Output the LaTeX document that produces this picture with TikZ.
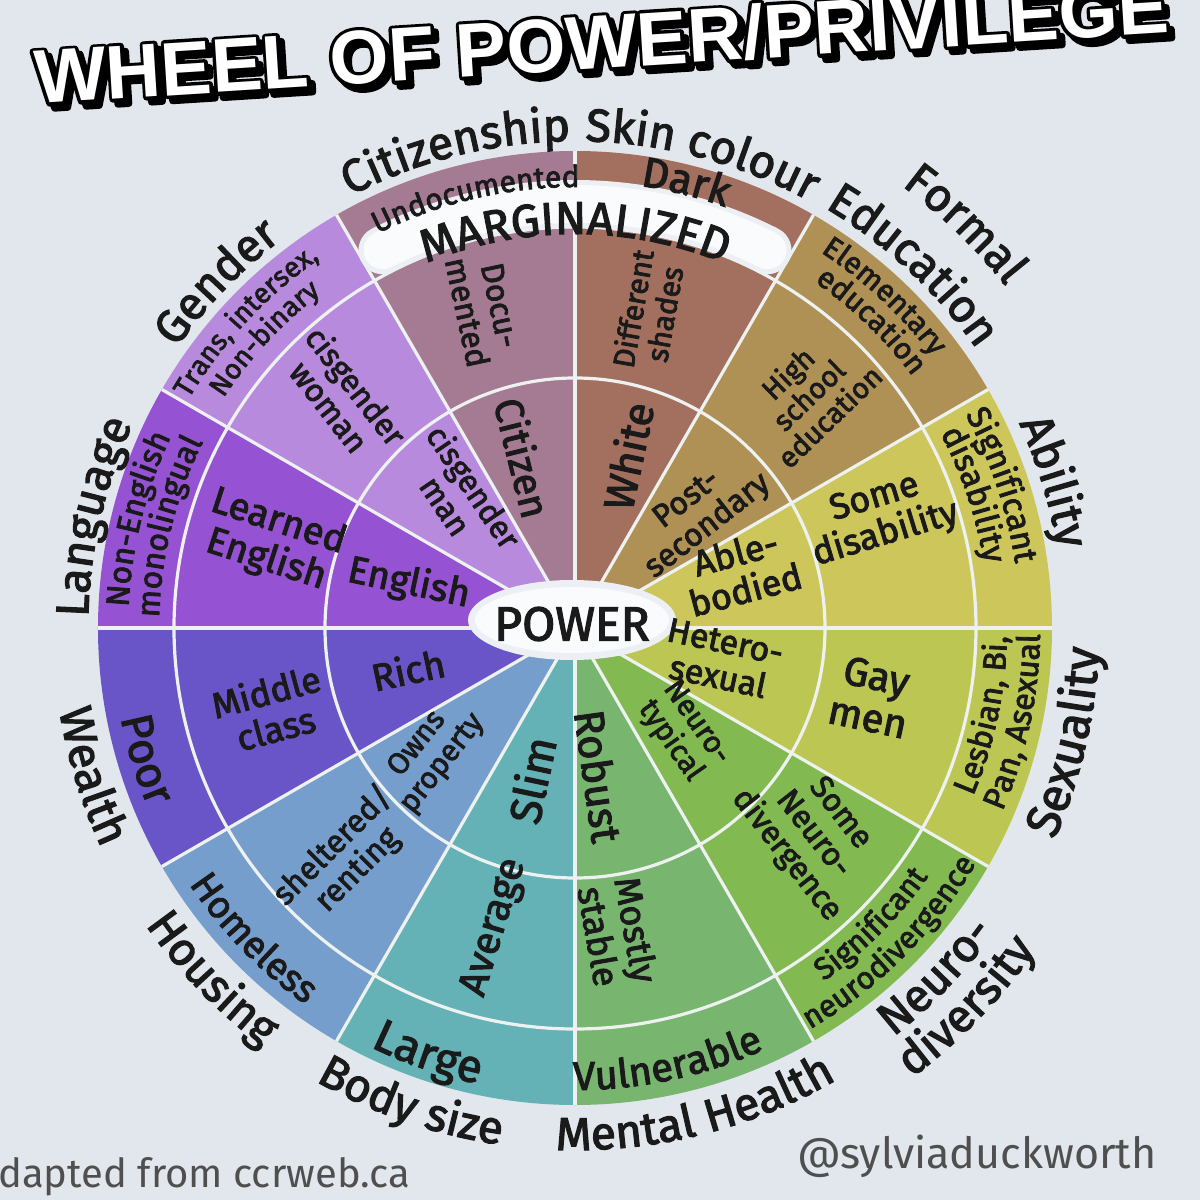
\documentclass[tikz,border=0pt]{standalone}
\usepackage{fontspec}
\setmainfont{Fira Sans}[FakeBold=2.5]
\newfontfamily\titlefont{Liberation Sans}
\newfontfamily\creditfont{Fira Sans}
\usetikzlibrary{decorations.text}
\definecolor{bg}{HTML}{E1E7EC}
\definecolor{ink}{HTML}{1A1A1A}
\definecolor{grayink}{HTML}{4F4F4F}
\definecolor{sepc}{HTML}{EDF1F0}
\definecolor{cit}{HTML}{A57B93}
\definecolor{skin}{HTML}{A3705F}
\definecolor{edu}{HTML}{AF9155}
\definecolor{abil}{HTML}{CDC75B}
\definecolor{sexc}{HTML}{BCC652}
\definecolor{neuro}{HTML}{82B950}
\definecolor{mental}{HTML}{78B670}
\definecolor{body}{HTML}{64B2B6}
\definecolor{house}{HTML}{769ECD}
\definecolor{wealth}{HTML}{6955C8}
\definecolor{lang}{HTML}{9552D2}
\definecolor{gend}{HTML}{B78ADE}
\newcommand\fs[1]{\fontsize{#1}{#1}\selectfont}
\newcommand\cwtext[4]{\path[decorate,decoration={text along path,text={|\fs{#1}\color{ink}|#4},text align=center}] ({#2+50}:#3) arc[start angle={#2+50},end angle={#2-50},radius=#3];}
\newcommand\ccwtext[4]{\path[decorate,decoration={text along path,text={|\fs{#1}\color{ink}|#4},text align=center}] ({#2-50}:#3) arc[start angle={#2-50},end angle={#2+50},radius=#3];}
\newcommand\strokeon[1]{\special{pdf:literal direct 2 Tr #1 w 1 j}}
\newcommand\strokeoff{\special{pdf:literal direct 0 Tr 1 w}}
\begin{document}
\begin{tikzpicture}[x=1pt,y=1pt,
  sep/.style={draw=sepc,line width=3.2},
  lab/.style={align=center,inner sep=0,text=ink},
  f29/.style={font=\fontsize{29}{30}\selectfont},
  f30/.style={font=\fontsize{30}{32}\selectfont},
  f32/.style={font=\fontsize{32}{34}\selectfont},
  f34/.style={font=\fontsize{34}{36}\selectfont},
  f36/.style={font=\fontsize{36}{38}\selectfont},
  f38/.style={font=\fontsize{38}{40}\selectfont},
  f40/.style={font=\fontsize{40}{42}\selectfont},
  f42/.style={font=\fontsize{42}{44}\selectfont},
  f44/.style={font=\fontsize{44}{46}\selectfont},
  ttl/.style={rotate=3.6,anchor=base west,inner sep=0,font=\titlefont\bfseries\fontsize{76}{76}\selectfont}]
\useasboundingbox (-575,-572) rectangle (625,628);
\fill[bg] (-575,-572) rectangle (625,628);
% title: shadow, outline, white face
\node[ttl,text=black] (titleshadow) at (-534,519) {\strokeon{7}WHEEL OF POWER/PRIVILEGE\strokeoff};
\node[ttl,text=black] (titleline) at (-539,524) {\strokeon{7}WHEEL OF POWER/PRIVILEGE\strokeoff};
\node[ttl,text=white] (title) at (-539,524) {WHEEL OF POWER/PRIVILEGE};
% wheel sectors
\foreach \a/\c in {90/skin,60/edu,30/abil,0/sexc,-30/neuro,-60/mental,-90/body,-120/house,-150/wealth,180/lang,150/gend,120/cit}
  \fill[\c] (0,0) -- (\a:477) arc[start angle=\a,end angle=\a-30,radius=477] -- cycle;
\draw[sep] (0,0) circle[radius=401];
\draw[sep] (0,0) circle[radius=250];
\foreach \a in {0,30,...,330}
  \draw[sep] (0,0) -- (\a:477);
% marginalized band
\draw[white!35!bg,line width=48,line cap=round] (117:424) arc[start angle=117,end angle=63,radius=424];
\draw[white!85!bg,line width=38,line cap=round] (117:424) arc[start angle=117,end angle=63,radius=424];
\cwtext{46}{90}{394}{MARGINALIZED}
% power blob
\fill[white!35!bg] (-3,8) ellipse[x radius=104,y radius=40];
\fill[white!85!bg] (-3,8) ellipse[x radius=97,y radius=33];
\node[lab,font=\fontsize{48}{48}\selectfont] (power) at (-3,4) {POWER};
% Citizenship
\cwtext{30}{103}{441}{Undocumented}
\node[lab,f32,rotate=-78] (docu) at (106:332) {Docu-\\mented};
\node[lab,f40,rotate=-76] (citizen) at (107:178) {Citizen};
% Skin colour
\cwtext{42}{76}{447}{Dark}
\node[lab,f30,rotate=80] (diff) at (77:325) {Different\\shades};
\node[lab,f42,rotate=78] (white) at (73:180) {White};
% Formal education
\cwtext{30}{47}{449}{Elementary}
\cwtext{30}{46}{421}{education}
\node[lab,f29,rotate=44] (high) at (45:330) {High\\school\\education};
\node[lab,f32,rotate=38] (post) at (43:168) {Post-\\secondary};
% Ability
\cwtext{33}{18.5}{445}{Significant}
\cwtext{33}{18.5}{414}{disability}
\node[lab,f36,rotate=17] (somedis) at (20:325) {Some\\disability};
\node[lab,f36,rotate=15] (able) at (19:175) {Able-\\bodied};
% Sexuality
\ccwtext{32}{-12}{432}{Lesbian, Bi,}
\ccwtext{32}{-12}{465}{Pan, Asexual}
\node[lab,f40,rotate=-12] (gay) at (-13:305) {Gay\\men};
\node[lab,f34,rotate=-12] (hetero) at (-12:150) {Hetero-\\sexual};
% Neurodiversity
\ccwtext{31}{-45}{432}{Significant}
\ccwtext{31}{-45}{465}{neurodivergence}
\node[lab,f32,rotate=-52] (someneuro) at (-41:315) {Some\\Neuro-\\divergence};
\node[lab,f30,rotate=-55] (typical) at (-44:150) {Neuro-\\typical};
% Mental health
\ccwtext{40}{-78}{462}{Vulnerable}
\node[lab,f36,rotate=-80] (mostly) at (-82:308) {Mostly\\stable};
\node[lab,f42,rotate=-82] (robust) at (-81:150) {Robust};
% Body size
\ccwtext{46}{-109}{466}{Large}
\node[lab,f40,rotate=73] (average) at (-105:310) {Average};
\node[lab,f44,rotate=78] (slim) at (-106:158) {Slim};
% Housing
\ccwtext{38}{-136}{463}{Homeless}
\node[lab,f32,rotate=45] (shelter) at (-135:325) {sheltered/\\renting};
\node[lab,f30,rotate=52] (owns) at (-139:192) {Owns\\property};
% Wealth
\ccwtext{44}{-163}{463}{Poor}
\node[lab,f36,rotate=15] (middle) at (-165:315) {Middle\\class};
\node[lab,f38,rotate=12] (rich) at (-166:172) {Rich};
% Language
\cwtext{32}{166}{447}{Non-English}
\cwtext{32}{166}{416}{monolingual}
\node[lab,f38,rotate=-18] (learned) at (164:315) {Learned\\English};
\node[lab,f38,rotate=-12] (english) at (165:172) {English};
% Gender
\cwtext{28}{137}{449}{Trans, intersex,}
\cwtext{28}{137}{420}{Non-binary}
\node[lab,f32,rotate=-52] (ciswoman) at (135:328) {cisgender\\woman};
\node[lab,f32,rotate=-56] (cisman) at (131:175) {cisgender\\man};
% category labels
\cwtext{46}{104}{487}{Citizenship}
\cwtext{46}{75}{487}{Skin colour}
\cwtext{46}{46}{550}{Formal}
\cwtext{46}{47}{489}{Education}
\cwtext{46}{17}{489}{Ability}
\ccwtext{48}{-13}{524}{Sexuality}
\ccwtext{46}{-44}{518}{Neuro-}
\ccwtext{46}{-44}{562}{diversity}
\ccwtext{46}{-76}{522}{Mental Health}
\ccwtext{46}{-109}{522}{Body size}
\ccwtext{46}{-136}{522}{Housing}
\ccwtext{46}{-163}{522}{Wealth}
\cwtext{46}{167}{487}{Language}
\cwtext{46}{136}{487}{Gender}
% credits
\node[anchor=base west,inner sep=0,text=grayink,font=\creditfont\fontsize{40}{40}\selectfont] (credit) at (-577,-559) {dapted from ccrweb.ca};
\node[anchor=base west,inner sep=0,text=grayink,font=\creditfont\fontsize{43}{43}\selectfont] (handle) at (222,-540) {@sylviaduckworth};
\end{tikzpicture}
\end{document}
